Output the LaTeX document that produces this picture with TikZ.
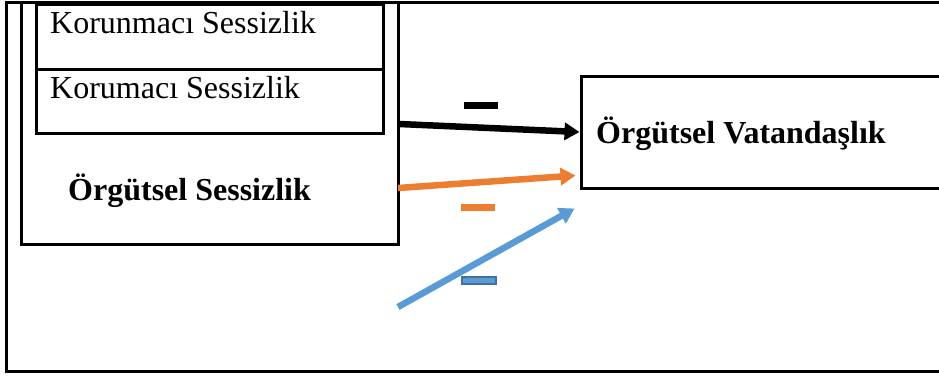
\documentclass[tikz,border=0pt]{standalone}
\usepackage{fontspec}
\setmainfont{Liberation Serif}
\usetikzlibrary{arrows.meta,calc}
\definecolor{turuncu}{HTML}{ED7D31}
\definecolor{mavi}{HTML}{5B9BD5}
\definecolor{koyumavi}{HTML}{41719C}
\begin{document}
\begin{tikzpicture}[x=1pt,y=-1pt]
      \useasboundingbox (0,0) rectangle (939,376);
      \draw[line width=3pt] (945,2) -- (6,2) -- (6,371) -- (945,371);

      \begin{scope}[every node/.style={rectangle,draw,line width=3pt,inner sep=0pt}]
        \node[minimum width=377pt,minimum height=242pt] (sessizlik) at (209.5,123) {};
        \node[minimum width=347pt,minimum height=65pt]  (korunmaci) at (209.5,36.5) {};
        \node[minimum width=347pt,minimum height=64pt]  (korumaci)  at (209.5,101) {};
        \node[minimum width=364pt,minimum height=112pt] (vatandaslik) at (763,132) {};
      \end{scope}

      \begin{scope}[every node/.style={inner sep=0pt,font=\fontsize{32}{36}\selectfont}]
        \node[anchor=base west] (t1) at (50,33)  {Korunmacı Sessizlik};
        \node[anchor=base west] (t2) at (50,98)  {Korumacı Sessizlik};
        \node[anchor=base west,font=\fontsize{32}{36}\selectfont\bfseries] (t3) at (68,200) {Örgütsel Sessizlik};
        \node[anchor=base west,font=\fontsize{32}{36}\selectfont\bfseries] (t4) at (596,143) {Örgütsel Vatandaşlık};
      \end{scope}

      \coordinate (o1) at (398,188);
      \coordinate (o2) at ([shift={(-4,-14)}]vatandaslik.south west);
      \coordinate (m1) at (398,307);
      \coordinate (m2) at ([shift={(-5,19)}]vatandaslik.south west);

      \begin{scope}[every edge/.style={draw,line width=6.5pt,-{Triangle[length=15pt,width=17pt]}}]
        \path ([yshift=-1pt]sessizlik.east) edge[black] (vatandaslik.west);
        \path (o1) edge[turuncu] (o2);
        \path (m1) edge[mavi] (m2);
      \end{scope}

      \begin{scope}[every node/.style={rectangle,inner sep=0pt,minimum width=34pt,minimum height=7pt}]
        \node[fill=black]    (eksi1) at (481,105.5) {};
        \node[fill=turuncu]  (eksi2) at (477.5,207.5) {};
        \node[fill=mavi,draw=koyumavi,line width=1.5pt] (eksi3) at (479,280.5) {};
      \end{scope}

    \end{tikzpicture}
\end{document}
